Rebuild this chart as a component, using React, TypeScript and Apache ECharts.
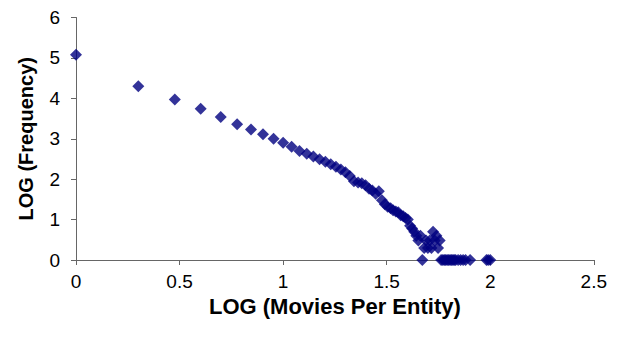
import React, { useEffect, useRef } from "react";
import * as echarts from "echarts";

const xValues: number[] = [
  0, 0.301, 0.477, 0.602, 0.699, 0.778, 0.845, 0.903, 0.954, 1.0,
  1.041, 1.079, 1.114, 1.146, 1.176, 1.204, 1.23, 1.255, 1.279, 1.301,
  1.322, 1.342, 1.362, 1.38, 1.398, 1.415, 1.431, 1.447, 1.462, 1.477,
  1.491, 1.505, 1.519, 1.531, 1.544, 1.556, 1.568, 1.58, 1.591, 1.602,
  1.613, 1.623, 1.633, 1.643, 1.653, 1.663, 1.672, 1.681, 1.69, 1.699,
  1.708, 1.716, 1.724, 1.732, 1.74, 1.748, 1.756, 1.763, 1.771, 1.778,
  1.785, 1.792, 1.799, 1.806, 1.813, 1.82, 1.826, 1.833, 1.845, 1.857,
  1.869, 1.881, 1.903, 1.982, 1.99, 2.0,
];
const yValues: number[] = [
  5.08, 4.3, 3.97, 3.74, 3.54, 3.36, 3.23, 3.11, 3.0, 2.9,
  2.8, 2.7, 2.63, 2.56, 2.49, 2.43, 2.37, 2.31, 2.24, 2.17,
  2.08, 1.95, 1.92, 1.9, 1.85, 1.76, 1.72, 1.64, 1.7, 1.48,
  1.38, 1.32, 1.28, 1.23, 1.2, 1.18, 1.11, 1.08, 1.04, 1.0,
  0.85, 0.78, 0.7, 0.6, 0.48, 0.6, 0.0, 0.3, 0.48, 0.3,
  0.48, 0.3, 0.7, 0.48, 0.6, 0.3, 0.48, 0.0, 0.0, 0.0,
  0.0, 0.0, 0.0, 0.0, 0.0, 0.0, 0.0, 0.0, 0.0, 0.0,
  0.0, 0.0, 0.0, 0.0, 0.0, 0.0,
];

const xAxisTitle = "LOG (Movies Per Entity)";
const yAxisTitle = "LOG (Frequency)";

export default function App() {
  const ref = useRef<HTMLDivElement>(null);
  useEffect(() => {
    if (!ref.current) return;
    const chart = echarts.init(ref.current, undefined, { renderer: "svg" });
    const data = xValues.map((x, i) => [x, yValues[i]]);
    const font = "Liberation Sans, Arial, sans-serif";
    chart.setOption({
      animation: false,
      backgroundColor: "#ffffff",
      grid: { left: 68, right: 12, top: 9, bottom: 71 },
      xAxis: {
        type: "value",
        min: 0,
        max: 2.5,
        interval: 0.5,
        name: xAxisTitle,
        nameLocation: "middle",
        nameGap: 14,
        nameTextStyle: { fontFamily: font, fontWeight: "bold", fontSize: 22, color: "#000" },
        axisLine: { lineStyle: { color: "#666", width: 1 } },
        axisTick: { inside: false, length: 5, lineStyle: { color: "#666" } },
        axisLabel: { margin: 12, fontFamily: font, fontSize: 19, color: "#000" },
        splitLine: { show: false },
      },
      yAxis: {
        type: "value",
        min: 0,
        max: 6,
        interval: 1,
        name: yAxisTitle,
        nameLocation: "middle",
        nameGap: 40,
        nameTextStyle: { fontFamily: font, fontWeight: "bold", fontSize: 20, color: "#000" },
        axisLine: { show: true, lineStyle: { color: "#666", width: 1 } },
        axisTick: { show: true, inside: false, length: 5, lineStyle: { color: "#666" } },
        axisLabel: { margin: 16, fontFamily: font, fontSize: 19, color: "#000" },
        splitLine: { show: false },
      },
      series: [
        {
          type: "scatter",
          data,
          symbol: "diamond",
          symbolSize: [12, 12],
          clip: false,
          itemStyle: { color: "#000080" },
        },
      ],
    });
    return () => chart.dispose();
  }, []);
  return <div ref={ref} style={{ width: 602, height: 323 }} />;
}
